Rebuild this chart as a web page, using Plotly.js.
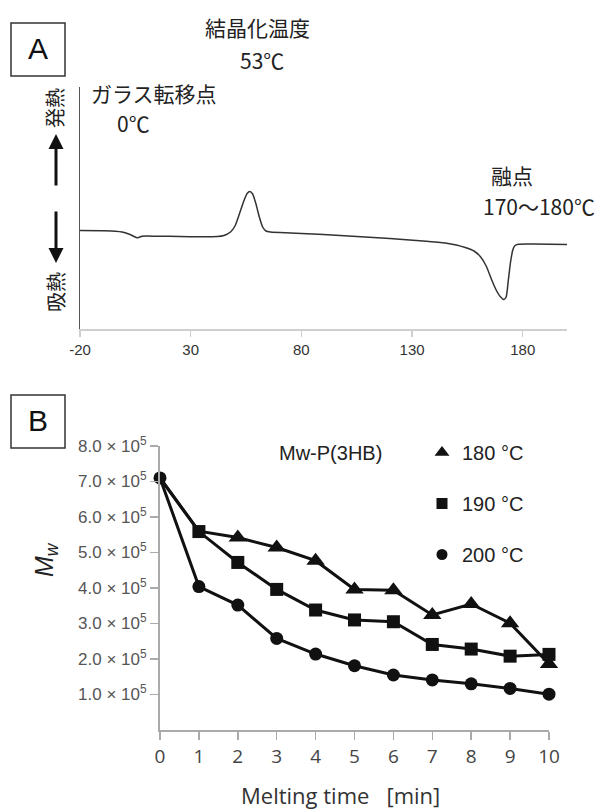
<!DOCTYPE html>
<html>
<head>
<meta charset="utf-8">
<script src="https://cdn.plot.ly/plotly-3.0.1.min.js"></script>
<style>html,body{margin:0;padding:0;background:#fff;}#chart{width:601px;height:810px;}</style>
</head>
<body>
<div id="chart"></div>
<script>
// ---------- Panel A: DSC curve (temperature in °C, heat flow in arbitrary units) ----------
const dscTemp = [-20, -10, -4, -1, 2, 4, 5.5, 6.5, 8, 15, 25, 35, 42, 45, 48, 50, 52, 54, 55.5, 56.7, 58, 59.5, 61, 62.5, 64, 66, 75, 90, 105, 120, 135, 145, 150, 154, 158, 161, 163.5, 166, 168, 170, 171.5, 172.5, 173.5, 174.5, 175.5, 176.5, 178, 185, 200];
const dscHeat = [98.5, 98.2, 97.8, 97, 95, 93, 91.4, 91.6, 92.8, 92.8, 92.5, 92.2, 92.4, 93.5, 97, 103, 115, 128, 135.5, 137.5, 135, 125, 112, 102, 98, 97, 96, 94.5, 92.5, 90.5, 88, 86, 84, 81.5, 78, 72, 63, 49, 39, 32, 29.5, 32, 49, 67, 79, 83.5, 84.8, 85, 84.5];
const dscTickVals = [-20, 30, 80, 130, 180];
const dscTickText = ['-20', '30', '80', '130', '180'];

// ---------- Panel B: Mw vs melting time ----------
const meltTime = [0, 1, 2, 3, 4, 5, 6, 7, 8, 9, 10];
const mw180 = [710000, 560000, 542000, 514000, 477000, 396000, 394000, 324000, 355000, 301000, 186000];
const mw190 = [710000, 559000, 472000, 396000, 338000, 310000, 305000, 241000, 228000, 208000, 213000];
const mw200 = [710000, 404000, 352000, 258000, 214000, 181000, 155000, 141000, 130000, 117000, 101000];
const seriesNames = ['180 °C', '190 °C', '200 °C'];
const mwTickVals = [100000, 200000, 300000, 400000, 500000, 600000, 700000, 800000];
const mwTickText = ['1.0 × 10<sup>5</sup>', '2.0 × 10<sup>5</sup>', '3.0 × 10<sup>5</sup>', '4.0 × 10<sup>5</sup>', '5.0 × 10<sup>5</sup>', '6.0 × 10<sup>5</sup>', '7.0 × 10<sup>5</sup>', '8.0 × 10<sup>5</sup>'];

const W = 601, H = 810;
const px = v => v / W;
const py = v => 1 - v / H;

const sizesFor = (n, hideCount, s) => Array.from({length: n}, (_, i) => i < hideCount ? 0 : s);
const mk = (symbol, size) => ({symbol: symbol, size: size, color: '#111', opacity: 1, line: {width: 0, color: '#111'}});

const traces = [
  {x: dscTemp, y: dscHeat, xaxis: 'x', yaxis: 'y', mode: 'lines', line: {color: '#333', width: 1.5, shape: 'spline', smoothing: 0.6}, showlegend: false},
  {x: meltTime, y: mw180, xaxis: 'x2', yaxis: 'y2', mode: 'lines+markers', name: seriesNames[0], showlegend: false, cliponaxis: false,
   line: {color: '#111', width: 3}, marker: mk('triangle-up', sizesFor(meltTime.length, 2, 16))},
  {x: meltTime, y: mw190, xaxis: 'x2', yaxis: 'y2', mode: 'lines+markers', name: seriesNames[1], showlegend: false, cliponaxis: false,
   line: {color: '#111', width: 3}, marker: mk('square', sizesFor(meltTime.length, 1, 13))},
  {x: meltTime, y: mw200, xaxis: 'x2', yaxis: 'y2', mode: 'lines+markers', name: seriesNames[2], showlegend: false, cliponaxis: false,
   line: {color: '#111', width: 3}, marker: mk('circle', 13)},
  // legend-only entries
  {x: [null], y: [null], xaxis: 'x2', yaxis: 'y2', mode: 'markers', name: seriesNames[0], legendgroup: 'a', marker: mk('triangle-up', 13)},
  {x: [null], y: [null], xaxis: 'x2', yaxis: 'y2', mode: 'markers', name: seriesNames[1], legendgroup: 'b', marker: mk('square', 11)},
  {x: [null], y: [null], xaxis: 'x2', yaxis: 'y2', mode: 'markers', name: seriesNames[2], legendgroup: 'c', marker: mk('circle', 11)}
];

const jp = '"Noto Sans CJK JP", "Noto Sans", sans-serif';
const ar = '"Liberation Sans", Arial, sans-serif';
const os = '"Open Sans", "Noto Sans", sans-serif';

const ann = (x, y, text, size, extra) => Object.assign({xref: 'paper', yref: 'paper', x: px(x), y: py(y), text: text, showarrow: false,
  xanchor: 'center', yanchor: 'middle', font: {family: jp, size: size, color: '#222'}}, extra || {});

const annotations = [
  ann(38, 49, 'A', 30, {font: {family: ar, size: 30, color: '#111'}}),
  ann(38, 421, 'B', 30, {font: {family: ar, size: 30, color: '#111'}}),
  ann(257, 27, '結晶化温度', 21),
  ann(262, 60, '53℃', 21),
  ann(154, 93, 'ガラス転移点', 21),
  ann(133, 123, '0℃', 21),
  ann(512, 175, '融点', 21),
  ann(539, 206, '170～180℃', 21),
  ann(55, 108, '発熱', 20, {textangle: -90}),
  ann(55, 292, '吸熱', 20, {textangle: -90}),
  // heat direction arrows
  {xref: 'paper', yref: 'paper', x: px(56), y: py(134), ax: 0, ay: 53, axref: 'pixel', ayref: 'pixel', showarrow: true, text: '',
   arrowhead: 2, arrowsize: 1, arrowwidth: 3, arrowcolor: '#111'},
  {xref: 'paper', yref: 'paper', x: px(56), y: py(263), ax: 0, ay: -53, axref: 'pixel', ayref: 'pixel', showarrow: true, text: '',
   arrowhead: 2, arrowsize: 1, arrowwidth: 3, arrowcolor: '#111'},
  ann(330, 453, 'Mw-P(3HB)', 20, {font: {family: ar, size: 20, color: '#222'}}),
  ann(340, 795, 'Melting time   [min]', 22, {font: {family: os, size: 22, color: '#333'}}),
  ann(46, 560, '<i>M</i><sub><i>w</i></sub>', 24, {textangle: -90, font: {family: ar, size: 25, color: '#222'}})
];

const shapes = [
  {type: 'rect', xref: 'paper', yref: 'paper', x0: px(11), x1: px(65), y0: py(23), y1: py(76), line: {color: '#333', width: 1.5}},
  {type: 'rect', xref: 'paper', yref: 'paper', x0: px(11), x1: px(65), y0: py(395), y1: py(448), line: {color: '#333', width: 1.5}}
];

const layout = {
  width: W, height: H,
  margin: {l: 0, r: 0, t: 0, b: 0},
  paper_bgcolor: '#fff', plot_bgcolor: 'rgba(0,0,0,0)',
  showlegend: true,
  legend: {x: px(422), y: py(433), xanchor: 'left', yanchor: 'top', bgcolor: 'rgba(0,0,0,0)', borderwidth: 0,
    font: {family: ar, size: 20, color: '#222'}, tracegroupgap: 22, traceorder: 'grouped'},
  xaxis: {domain: [px(80), px(567)], range: [-20, 200], anchor: 'y', showgrid: false, zeroline: false,
    showline: true, linecolor: '#cfcfcf', linewidth: 2, ticks: 'outside', ticklen: 6, tickcolor: '#cfcfcf', tickwidth: 1.5,
    tickvals: dscTickVals, ticktext: dscTickText, tickfont: {family: ar, size: 15, color: '#333'}},
  yaxis: {domain: [py(329), py(87)], range: [0, 242], anchor: 'x', showgrid: false, zeroline: false,
    showline: true, linecolor: '#555', linewidth: 1.5, showticklabels: false, ticks: ''},
  xaxis2: {domain: [px(160), px(549)], range: [0, 10], anchor: 'y2', showgrid: false, zeroline: false,
    showline: true, linecolor: '#aaa', linewidth: 2, ticks: 'outside', ticklen: 8, tickcolor: '#aaa', tickwidth: 1.5,
    tickvals: meltTime, tickfont: {family: os, size: 19, color: '#444'}},
  yaxis2: {domain: [py(730), py(446)], range: [0, 800000], anchor: 'x2', showgrid: false, zeroline: false,
    showline: true, linecolor: '#aaa', linewidth: 2, ticks: 'outside', ticklen: 8, tickcolor: '#aaa', tickwidth: 1.5,
    tickvals: mwTickVals, ticktext: mwTickText, tickfont: {family: ar, size: 17, color: '#555'}},
  annotations: annotations,
  shapes: shapes
};

Plotly.newPlot('chart', traces, layout, {staticPlot: true});
</script>
</body>
</html>
